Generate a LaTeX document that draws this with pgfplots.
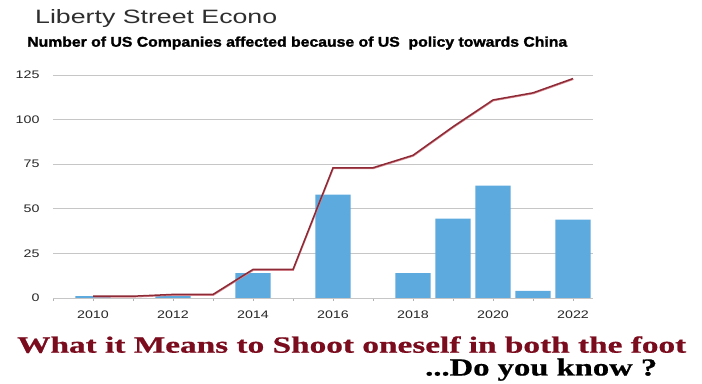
\documentclass[border=0pt]{standalone}
\usepackage{pgfplots}
\pgfplotsset{compat=1.18}
\usepackage{fontspec}
\setmainfont{Liberation Sans}
\newfontfamily\ticksans[FakeStretch=1.3]{Liberation Sans}
\newfontfamily\titlesans{Liberation Sans}
\newfontfamily\heavysans[FakeBold=1.6]{Liberation Sans Bold}
\newfontfamily\serifb[FakeBold=0.6]{Liberation Serif Bold}
\definecolor{barblue}{HTML}{5DAADF}
\definecolor{linered}{HTML}{8E2A35}
\definecolor{shadowred}{HTML}{D98A92}
\definecolor{bottomred}{HTML}{7A0C1E}
\definecolor{gridgray}{HTML}{C6C6C6}
\begin{document}
\begin{tikzpicture}
\useasboundingbox[fill=white] (0,0) rectangle (702bp,384bp);
\begin{axis}[
  at={(53bp,86bp)}, anchor=south west,
  scale only axis, width=540bp, height=223bp,
  xmin=2009, xmax=2022.5, ymin=0, ymax=125,
  axis lines*=left,
  x axis line style={draw=gridgray, line width=0.8bp},
  y axis line style={draw=none},
  xtick={2010,2012,...,2022},
  minor xtick={2009,2011,...,2021},
  tick align=outside,
  major tick length=3bp, minor tick length=3bp,
  xtick style={draw=gray!60, line width=0.6bp},
  minor x tick style={draw=gray!60, line width=0.6bp},
  ytick={0,25,...,125},
  ytick style={draw=none},
  ymajorgrids,
  major grid style={draw=gridgray, line width=0.9bp},
  extra y ticks={50}, extra y tick labels={},
  extra y tick style={grid style={draw=gray!30, line width=2.6bp}},
  /pgf/number format/assume math mode=true,
  /pgf/number format/1000 sep={},
  ticklabel style={font=\ticksans\fontsize{11}{12}\selectfont, text=black!85},
  xticklabel style={yshift=-6.5bp},
  yticklabel style={xshift=-7bp},
]
\addplot[ybar, bar width=0.88, fill=barblue, draw=none] coordinates {
  (2010,1) (2012,1) (2014,14) (2016,58) (2018,14) (2019,44.5) (2020,63) (2021,4) (2022,44)
};
\addplot[shadowred, line width=1.0bp, shift={(0.4bp,-0.9bp)}] coordinates {
  (2010,1) (2011,1) (2012,2) (2013,2) (2014,16) (2015,16) (2016,73) (2017,73)
  (2018,80) (2019,96) (2020,111) (2021,115) (2022,123)
};
\addplot[linered, line width=1.5bp] coordinates {
  (2010,1) (2011,1) (2012,2) (2013,2) (2014,16) (2015,16) (2016,73) (2017,73)
  (2018,80) (2019,96) (2020,111) (2021,115) (2022,123)
};
\end{axis}
\node[anchor=base west, inner sep=0pt, text=black!82] at (35bp,360.7bp)
  {\resizebox{242bp}{14bp}{\titlesans Liberty Street Econo}};
\node[anchor=base west, inner sep=0pt, text=black] at (27bp,337.3bp)
  {\resizebox{540bp}{10.2bp}{\heavysans Number of US Companies affected because of US\ \ policy towards China}};
\node[anchor=base west, inner sep=0pt, text=bottomred] at (17bp,31.3bp)
  {\resizebox{669bp}{16.4bp}{\serifb What it Means to Shoot oneself in both the foot}};
\node[anchor=base west, inner sep=0pt, text=black] at (425bp,8.5bp)
  {\resizebox{232bp}{17bp}{\serifb ...Do you know ?}};
\end{tikzpicture}
\end{document}
